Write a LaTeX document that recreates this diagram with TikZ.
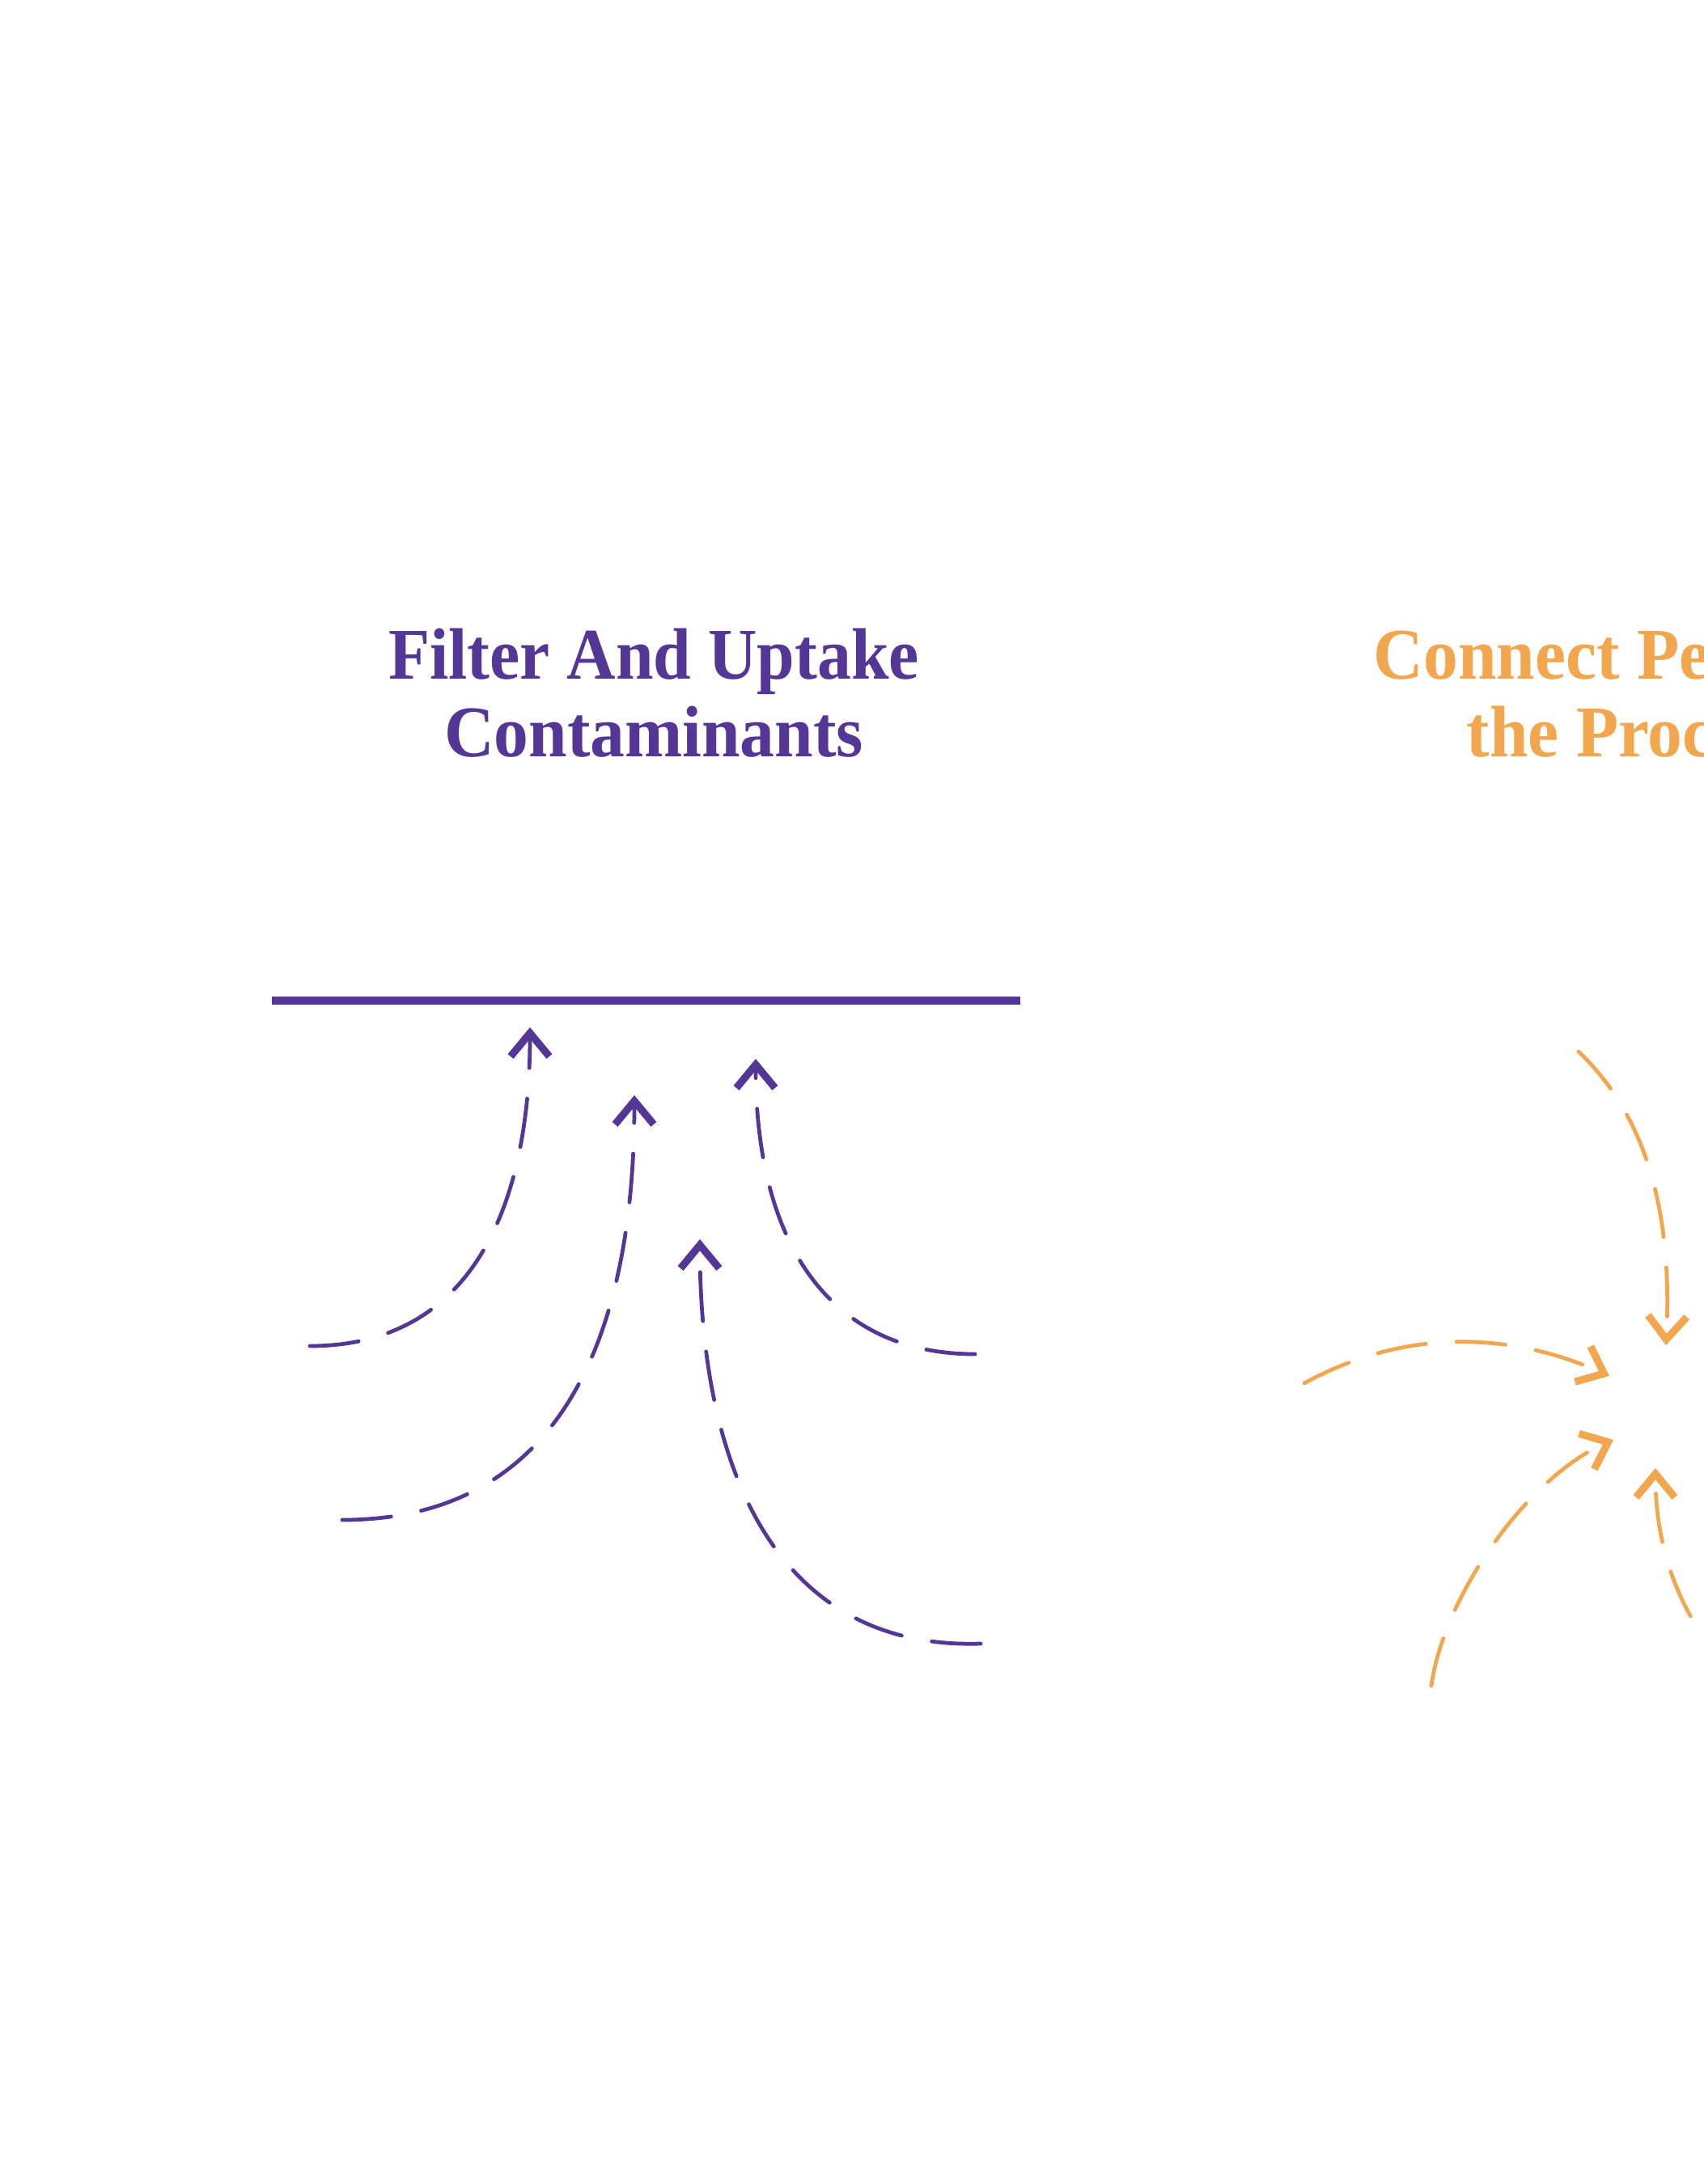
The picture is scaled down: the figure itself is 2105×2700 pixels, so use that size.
\documentclass[tikz,border=0pt]{standalone}
\usepackage{fontspec}
\setmainfont{Liberation Serif}
\usetikzlibrary{arrows.meta}
\definecolor{brandpurple}{RGB}{84,54,150}
\definecolor{brandorange}{RGB}{242,166,77}
\begin{document}
\begin{tikzpicture}[x=0.01cm,y=-0.01cm,
  flow/.style={line width=1.35pt, dash pattern=on 17.2pt off 10.8pt, line cap=round,
    -{Straight Barb[length=8.2pt,width=13.6pt,line width'=2.6pt]}},
  purpleflow/.style={flow, draw=brandpurple},
  orangeflow/.style={flow, draw=brandorange},
  titletext/.style={inner sep=0pt, font=\bfseries\fontsize{25.6pt}{27pt}\selectfont}]
\useasboundingbox (0,0) rectangle (2105,2700);
\clip (0,0) rectangle (2105,2700);

% Titles
\node[titletext, text=brandpurple, anchor=base] (t1a) at (808,839) {\scalebox{0.93}[1]{Filter And Uptake}};
\node[titletext, text=brandpurple, anchor=base] (t1b) at (808,935) {\scalebox{0.95}[1]{Contaminants}};
\node[titletext, text=brandorange, anchor=base west] (t2a) at (1697,839) {\scalebox{0.95}[1]{Connect People to}};
\node[titletext, text=brandorange, anchor=base west] (t2b) at (1812,935) {\scalebox{0.95}[1]{the Process}};

% Filter surface
\coordinate (surfL) at (336,1237);
\coordinate (surfR) at (1261,1237);
\draw[brandpurple, line width=2.8pt] (surfL) -- (surfR);

% Purple upward flows
\coordinate (aT) at (383,1664); \coordinate (aH) at (655,1270);
\draw[purpleflow] (aT) .. controls (590,1664) and (655,1480) .. (aH);
\coordinate (bT) at (423,1879); \coordinate (bH) at (784,1354);
\draw[purpleflow] (bT) .. controls (700,1879) and (784,1640) .. (bH);
\coordinate (cT) at (1205,1674); \coordinate (cH) at (934,1309);
\draw[purpleflow] (cT) .. controls (1020,1674) and (934,1530) .. (cH);
\coordinate (dT) at (1212,2032); \coordinate (dH) at (865,1532);
\draw[purpleflow] (dT) .. controls (950,2040) and (865,1800) .. (dH);

% Orange converging flows
\coordinate (eT) at (1951,1300); \coordinate (eH) at (2059,1663);
\draw[orangeflow] (eT) .. controls (2045,1390) and (2066,1520) .. (eH);
\coordinate (fT) at (1612,1710); \coordinate (fH) at (1989,1701);
\draw[orangeflow] (fT) .. controls (1740,1640) and (1870,1648) .. (fH);
\coordinate (gT) at (1769,2084); \coordinate (gH) at (1994,1780);
\draw[orangeflow] (gT) .. controls (1785,1970) and (1890,1825) .. (gH);
\coordinate (hT) at (2150,2075); \coordinate (hH) at (2046,1815);
\draw[orangeflow] (hT) .. controls (2080,2010) and (2046,1920) .. (hH);
\end{tikzpicture}
\end{document}
